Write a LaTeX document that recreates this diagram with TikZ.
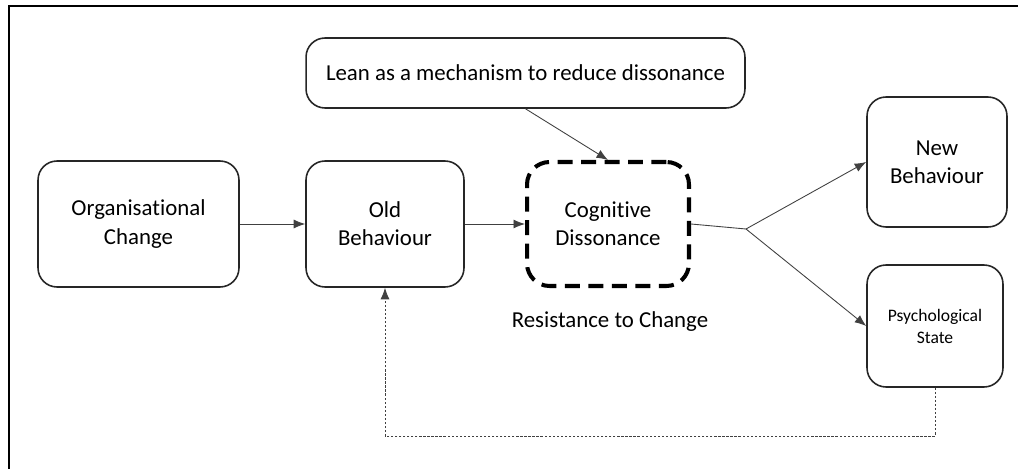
\documentclass[tikz,border=0pt]{standalone}
\usepackage{fontspec}
\setmainfont{Carlito}[Ligatures=CommonOff]
\usetikzlibrary{arrows.meta}

\begin{document}
\begin{tikzpicture}[x=0.02cm, y=-0.02cm, thin, >={Latex[length=2.3mm,width=1.8mm]}]
      \tikzstyle{every node}=[font=\fontsize{13}{16}\selectfont, align=center]
      \tikzstyle{box}=[draw=black!85, line width=0.9pt, rounded corners=0.38cm, inner sep=0pt]
      \tikzstyle{dissonance}=[draw=black, line width=2.3pt, dash pattern=on 0.3cm off 0.17cm, rounded corners=0.45cm, inner sep=0pt]
      \tikzstyle{link}=[draw=black!75, line width=0.5pt]
      \useasboundingbox (0, 0) rectangle (1018, 469);
      \draw [line width=1.4pt] (9, 480) -- (9, 6) -- (1030, 6);
      \node [box, minimum width=4.02cm, minimum height=2.52cm] (a) at (138.5, 224) {Organisational\\Change};
      \node [box, minimum width=3.16cm, minimum height=2.52cm] (b) at (385, 224) {Old\\Behaviour};
      \node [dissonance, minimum width=3.24cm, minimum height=2.48cm] (c) at (608, 224) {Cognitive\\Dissonance};
      \node [box, minimum width=8.78cm, minimum height=1.4cm] (l) at (525.5, 73) {Lean as a mechanism to reduce dissonance};
      \node [box, minimum width=2.8cm, minimum height=2.6cm] (n) at (937, 162) {New\\Behaviour};
      \node [box, minimum width=2.72cm, minimum height=2.44cm, font=\fontsize{10}{12.5}\selectfont] (p) at (935, 326) {Psychological\\State};
      \node [] (r) at (610, 322) {Resistance to Change};
      \coordinate (s) at (746, 229);
      \coordinate (f) at (385, 436);
      \draw [link, ->] (a) -- (b);
      \draw [link, ->] (b) -- (c);
      \draw [link, ->] (l.south) -- (c.north);
      \draw [link] (c.east) -- (s);
      \draw [link, ->] (s) -- (n.west);
      \draw [link, ->] (s) -- (p.west);
      \draw [link, dash pattern=on 1.3pt off 1pt, ->] (p.south) |- (f) -- (b.south);
    \end{tikzpicture}
\end{document}
